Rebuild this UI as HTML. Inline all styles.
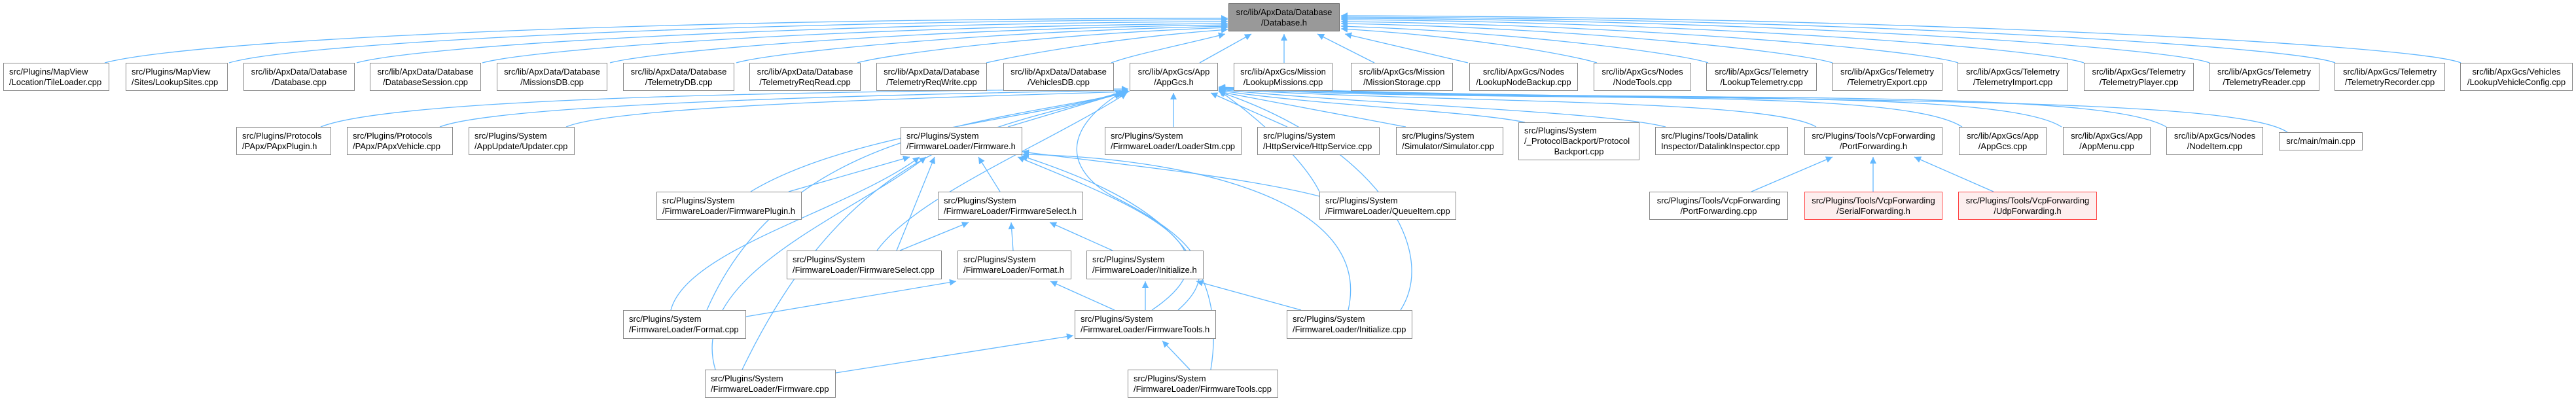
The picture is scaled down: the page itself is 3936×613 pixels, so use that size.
<!DOCTYPE html>
<html><head><meta charset="utf-8">
<style>
body{margin:0;background:#fff;width:3936px;height:613px;overflow:hidden;position:relative;font-family:"Liberation Sans",Arial,sans-serif;}
svg{position:absolute;left:0;top:0;}
.b{position:absolute;box-sizing:border-box;border:1.5px solid #888;background:#fff;font-size:13px;line-height:16px;color:#000;display:flex;flex-direction:column;justify-content:center;text-align:center;white-space:nowrap;padding:0 8px;}
.l{text-align:left;}
.r{border-color:#f44;background:#fdeeee;}
.g{background:#999;border-color:#666;}
</style></head><body>
<svg width="3936" height="613" viewBox="0 0 3936 613">
<defs><marker id="a" viewBox="0 0 10 10" refX="10" refY="5" markerWidth="12" markerHeight="10" markerUnits="userSpaceOnUse" orient="auto-start-reverse"><path d="M0,0L10,5L0,10z" fill="#63b8ff"/></marker></defs>
<g fill="none" stroke="#63b8ff" stroke-width="1.3" marker-start="url(#a)">
<path d="M1876,28 C1000,28 300,60 160,96"/>
<path d="M1876,30 C1100,32 450,66 350,96"/>
<path d="M1876,33 C1200,36 640,70 545,96"/>
<path d="M1876,36 C1300,40 820,74 737,96"/>
<path d="M1876,38 C1400,44 1000,78 932,96"/>
<path d="M1876,40 C1500,48 1180,80 1125,96"/>
<path d="M1876,42 C1600,52 1360,82 1310,96"/>
<path d="M1876,45 C1700,58 1560,84 1507,96"/>
<path d="M1872,52 C1800,70 1730,84 1698,96"/>
<path d="M1912,52 L1833,96"/>
<path d="M1962,52 L1962,96"/>
<path d="M2013,52 L2100,96"/>
<path d="M2055,52 L2243,96"/>
<path d="M2049,44 C2250,56 2400,84 2440,96"/>
<path d="M2049,40 C2300,48 2560,80 2610,96"/>
<path d="M2049,36 C2400,42 2740,78 2800,96"/>
<path d="M2049,33 C2500,38 2930,76 2992,96"/>
<path d="M2049,30 C2600,34 3120,74 3184,96"/>
<path d="M2049,28 C2700,30 3310,72 3376,96"/>
<path d="M2049,26 C2800,28 3500,70 3568,96"/>
<path d="M2049,24 C2900,26 3690,68 3760,96"/>
<path d="M1724,136 C1200,140 600,150 490,194"/>
<path d="M1724,138 C1300,145 760,160 672,194"/>
<path d="M1726,140 C1400,150 940,162 865,194"/>
<path d="M1720,140 L1540,194"/>
<path d="M1793,142 L1793,194"/>
<path d="M1850,142 L1967,194"/>
<path d="M1862,140 L2148,194"/>
<path d="M1862,138 C2000,160 2250,170 2330,187"/>
<path d="M1862,137 C2100,160 2450,170 2545,194"/>
<path d="M1862,136 C2200,158 2700,150 2775,194"/>
<path d="M1862,135 C2300,160 2900,130 2998,194"/>
<path d="M1862,134 C2400,160 3050,130 3150,194"/>
<path d="M1862,134 C2500,160 3200,130 3310,194"/>
<path d="M1862,133 C2600,160 3400,140 3495,202"/>
<path d="M1715,140 C1600,180 1300,200 1147,293"/>
<path d="M1720,142 C1500,190 1200,200 1080,474"/>
<path d="M1717,142 C1500,200 1300,220 1134,565"/>
<path d="M1722,142 C1600,220 1400,300 1340,383"/>
<path d="M1862,138 C1950,200 2000,260 2016,293"/>
<path d="M1862,140 C2100,220 2200,380 2140,474"/>
<path d="M1712,142 C1620,200 1630,260 1700,300 C1860,380 1850,430 1800,474"/>
<path d="M1390,240 L1205,293"/>
<path d="M1405,240 C1300,320 1050,380 1025,474"/>
<path d="M1415,240 C1300,330 1050,420 1093,565"/>
<path d="M1428,240 L1370,383"/>
<path d="M1495,240 L1528,293"/>
<path d="M1562,232 C1700,250 1900,270 2016,300"/>
<path d="M1555,240 C1750,320 1900,380 1760,474"/>
<path d="M1562,236 C1800,240 2100,300 2060,474"/>
<path d="M1560,238 C1750,300 1880,380 1850,565"/>
<path d="M1480,340 L1375,383"/>
<path d="M1545,340 L1548,383"/>
<path d="M1604,340 L1700,383"/>
<path d="M1461,430 L1140,484"/>
<path d="M1605,430 L1703,474"/>
<path d="M1750,430 L1750,474"/>
<path d="M1828,430 L1988,474"/>
<path d="M1640,513 L1277,570"/>
<path d="M1776,521 L1818,565"/>
<path d="M2800,240 L2676,293"/>
<path d="M2862,240 L2862,293"/>
<path d="M2925,240 L3046,293"/>
</g>
</svg>

<div class="b g" style="left:1877px;top:5px;width:170px;height:43px;">src/lib/ApxData/Database<br>/Database.h</div>

<div class="b l" style="left:5px;top:96px;width:162px;height:43px;">src/Plugins/MapView<br>/Location/TileLoader.cpp</div>
<div class="b l" style="left:192px;top:96px;width:156px;height:43px;">src/Plugins/MapView<br>/Sites/LookupSites.cpp</div>
<div class="b" style="left:372px;top:96px;width:170px;height:43px;">src/lib/ApxData/Database<br>/Database.cpp</div>
<div class="b" style="left:565px;top:96px;width:170px;height:43px;">src/lib/ApxData/Database<br>/DatabaseSession.cpp</div>
<div class="b" style="left:759px;top:96px;width:169px;height:43px;">src/lib/ApxData/Database<br>/MissionsDB.cpp</div>
<div class="b" style="left:952px;top:96px;width:170px;height:43px;">src/lib/ApxData/Database<br>/TelemetryDB.cpp</div>
<div class="b" style="left:1145px;top:96px;width:170px;height:43px;">src/lib/ApxData/Database<br>/TelemetryReqRead.cpp</div>
<div class="b" style="left:1339px;top:96px;width:169px;height:43px;">src/lib/ApxData/Database<br>/TelemetryReqWrite.cpp</div>
<div class="b" style="left:1533px;top:96px;width:169px;height:43px;">src/lib/ApxData/Database<br>/VehiclesDB.cpp</div>
<div class="b" style="left:1726px;top:96px;width:135px;height:43px;">src/lib/ApxGcs/App<br>/AppGcs.h</div>
<div class="b" style="left:1885px;top:96px;width:151px;height:43px;">src/lib/ApxGcs/Mission<br>/LookupMissions.cpp</div>
<div class="b" style="left:2064px;top:96px;width:156px;height:43px;">src/lib/ApxGcs/Mission<br>/MissionStorage.cpp</div>
<div class="b" style="left:2245px;top:96px;width:166px;height:43px;">src/lib/ApxGcs/Nodes<br>/LookupNodeBackup.cpp</div>
<div class="b" style="left:2435px;top:96px;width:149px;height:43px;">src/lib/ApxGcs/Nodes<br>/NodeTools.cpp</div>
<div class="b" style="left:2607px;top:96px;width:169px;height:43px;">src/lib/ApxGcs/Telemetry<br>/LookupTelemetry.cpp</div>
<div class="b" style="left:2799px;top:96px;width:169px;height:43px;">src/lib/ApxGcs/Telemetry<br>/TelemetryExport.cpp</div>
<div class="b" style="left:2991px;top:96px;width:169px;height:43px;">src/lib/ApxGcs/Telemetry<br>/TelemetryImport.cpp</div>
<div class="b" style="left:3184px;top:96px;width:168px;height:43px;">src/lib/ApxGcs/Telemetry<br>/TelemetryPlayer.cpp</div>
<div class="b" style="left:3375px;top:96px;width:169px;height:43px;">src/lib/ApxGcs/Telemetry<br>/TelemetryReader.cpp</div>
<div class="b" style="left:3567px;top:96px;width:169px;height:43px;">src/lib/ApxGcs/Telemetry<br>/TelemetryRecorder.cpp</div>
<div class="b" style="left:3759px;top:96px;width:172px;height:43px;">src/lib/ApxGcs/Vehicles<br>/LookupVehicleConfig.cpp</div>

<div class="b l" style="left:361px;top:194px;width:145px;height:43px;">src/Plugins/Protocols<br>/PApx/PApxPlugin.h</div>
<div class="b l" style="left:530px;top:194px;width:162px;height:43px;">src/Plugins/Protocols<br>/PApx/PApxVehicle.cpp</div>
<div class="b l" style="left:716px;top:194px;width:162px;height:43px;">src/Plugins/System<br>/AppUpdate/Updater.cpp</div>
<div class="b l" style="left:1376px;top:194px;width:186px;height:43px;">src/Plugins/System<br>/FirmwareLoader/Firmware.h</div>
<div class="b l" style="left:1688px;top:194px;width:209px;height:43px;">src/Plugins/System<br>/FirmwareLoader/LoaderStm.cpp</div>
<div class="b l" style="left:1921px;top:194px;width:187px;height:43px;">src/Plugins/System<br>/HttpService/HttpService.cpp</div>
<div class="b l" style="left:2133px;top:194px;width:164px;height:43px;">src/Plugins/System<br>/Simulator/Simulator.cpp</div>
<div class="b l" style="left:2320px;top:187px;width:185px;height:58px;">src/Plugins/System<br>/_ProtocolBackport/Protocol<br><span style="display:block;text-align:center">Backport.cpp</span></div>
<div class="b l" style="left:2529px;top:194px;width:203px;height:43px;">src/Plugins/Tools/Datalink<br>Inspector/DatalinkInspector.cpp</div>
<div class="b" style="left:2757px;top:194px;width:211px;height:43px;">src/Plugins/Tools/VcpForwarding<br>/PortForwarding.h</div>
<div class="b" style="left:2993px;top:194px;width:134px;height:43px;">src/lib/ApxGcs/App<br>/AppGcs.cpp</div>
<div class="b" style="left:3152px;top:194px;width:134px;height:43px;">src/lib/ApxGcs/App<br>/AppMenu.cpp</div>
<div class="b" style="left:3310px;top:194px;width:148px;height:43px;">src/lib/ApxGcs/Nodes<br>/NodeItem.cpp</div>
<div class="b" style="left:3482px;top:202px;width:128px;height:28px;">src/main/main.cpp</div>

<div class="b l" style="left:1003px;top:293px;width:222px;height:43px;">src/Plugins/System<br>/FirmwareLoader/FirmwarePlugin.h</div>
<div class="b l" style="left:1433px;top:293px;width:222px;height:43px;">src/Plugins/System<br>/FirmwareLoader/FirmwareSelect.h</div>
<div class="b l" style="left:2016px;top:293px;width:209px;height:43px;">src/Plugins/System<br>/FirmwareLoader/QueueItem.cpp</div>
<div class="b" style="left:2520px;top:293px;width:212px;height:43px;">src/Plugins/Tools/VcpForwarding<br>/PortForwarding.cpp</div>
<div class="b r" style="left:2757px;top:293px;width:211px;height:43px;">src/Plugins/Tools/VcpForwarding<br>/SerialForwarding.h</div>
<div class="b r" style="left:2992px;top:293px;width:212px;height:43px;">src/Plugins/Tools/VcpForwarding<br>/UdpForwarding.h</div>

<div class="b l" style="left:1202px;top:383px;width:237px;height:44px;">src/Plugins/System<br>/FirmwareLoader/FirmwareSelect.cpp</div>
<div class="b l" style="left:1463px;top:383px;width:174px;height:44px;">src/Plugins/System<br>/FirmwareLoader/Format.h</div>
<div class="b l" style="left:1660px;top:383px;width:179px;height:44px;">src/Plugins/System<br>/FirmwareLoader/Initialize.h</div>

<div class="b l" style="left:952px;top:474px;width:188px;height:44px;">src/Plugins/System<br>/FirmwareLoader/Format.cpp</div>
<div class="b l" style="left:1642px;top:474px;width:216px;height:44px;">src/Plugins/System<br>/FirmwareLoader/FirmwareTools.h</div>
<div class="b l" style="left:1966px;top:474px;width:192px;height:44px;">src/Plugins/System<br>/FirmwareLoader/Initialize.cpp</div>

<div class="b l" style="left:1077px;top:565px;width:200px;height:43px;">src/Plugins/System<br>/FirmwareLoader/Firmware.cpp</div>
<div class="b l" style="left:1723px;top:565px;width:230px;height:43px;">src/Plugins/System<br>/FirmwareLoader/FirmwareTools.cpp</div>
</body></html>
